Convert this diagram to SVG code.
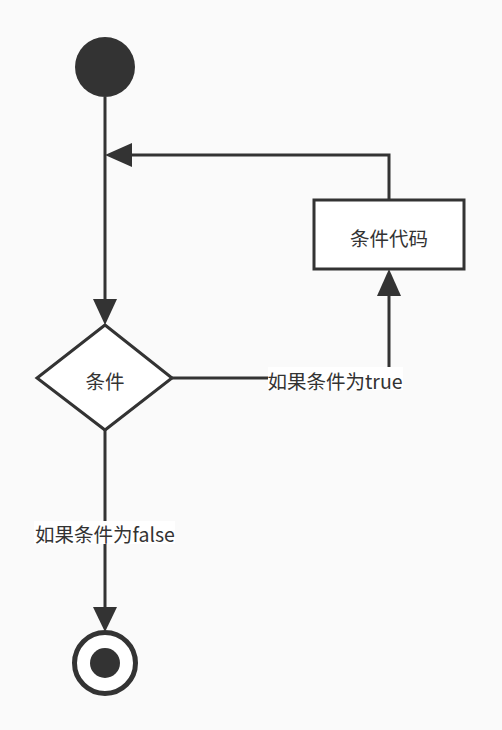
<svg xmlns="http://www.w3.org/2000/svg" width="502" height="730" viewBox="0 0 502 730">
  <style>
    .line { fill: none; stroke: #333; stroke-width: 3; }
    .shape { fill: #fff; stroke: #333; stroke-width: 3; }
    .lbl { font-family: "Microsoft YaHei", "Noto Sans CJK SC", "Noto Sans", sans-serif; font-size: 19.5px; fill: #333; text-anchor: middle; dominant-baseline: central; }
  </style>
  <rect width="502" height="730" fill="#fafafa"/>

  <g id="connectors">
    <!-- start to condition -->
    <path class="line" d="M105,97 V300"/>
    <path d="M93,299 L105,325 L117,299 Z" fill="#333"/>
    <!-- condition true to body -->
    <path class="line" d="M172,378 H389 V295"/>
    <path d="M377,296 L389,269 L401,296 Z" fill="#333"/>
    <!-- body back to loop head -->
    <path class="line" d="M389,199 V155 H130"/>
    <path d="M132,143 L105,155 L132,167 Z" fill="#333"/>
    <!-- condition false to end -->
    <path class="line" d="M105,430 V608"/>
    <path d="M93,607 L105,632 L117,607 Z" fill="#333"/>
    <!-- labels -->
    <rect x="268" y="367" width="135" height="23" fill="#fff"/>
    <text class="lbl" x="335" y="380">如果条件为true</text>
    <rect x="34" y="521" width="141" height="23" fill="#fff"/>
    <text class="lbl" x="105" y="533">如果条件为false</text>
  </g>

  <g id="start">
    <circle cx="105" cy="67" r="30" fill="#333"/>
  </g>

  <g id="condition">
    <polygon class="shape" points="105,325 172,378 105,430 37,378"/>
    <text class="lbl" x="105" y="380">条件</text>
  </g>

  <g id="body">
    <rect class="shape" x="314" y="200" width="150" height="69"/>
    <text class="lbl" x="389" y="237">条件代码</text>
  </g>

  <g id="end">
    <circle cx="105" cy="663" r="30.5" fill="#fff" stroke="#333" stroke-width="5"/>
    <circle cx="105" cy="663" r="15" fill="#333"/>
  </g>
</svg>
